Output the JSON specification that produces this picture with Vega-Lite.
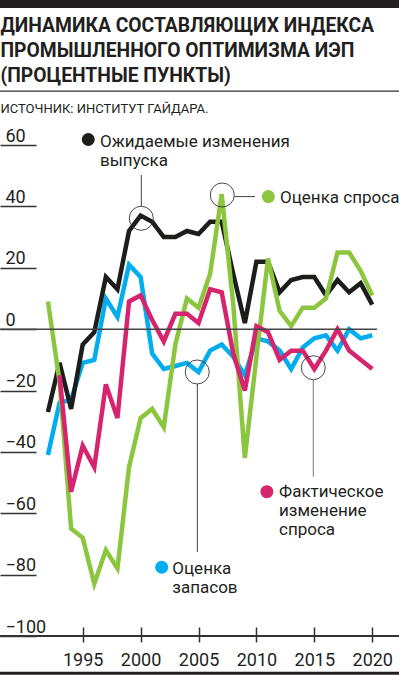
{
  "$schema": "https://vega.github.io/schema/vega-lite/v6.json",
  "width": 399,
  "height": 516,
  "autosize": {"type": "none"},
  "padding": {"left": 0, "right": 0, "top": 120, "bottom": 40},
  "background": "white",
  "config": {"view": {"stroke": null}},
  "data": {
    "values": [
      {"year": 1992, "series": "Ожидаемые изменения выпуска", "value": -27},
      {"year": 1993, "series": "Ожидаемые изменения выпуска", "value": -11},
      {"year": 1994, "series": "Ожидаемые изменения выпуска", "value": -26},
      {"year": 1995, "series": "Ожидаемые изменения выпуска", "value": -5},
      {"year": 1996, "series": "Ожидаемые изменения выпуска", "value": -1},
      {"year": 1997, "series": "Ожидаемые изменения выпуска", "value": 17},
      {"year": 1998, "series": "Ожидаемые изменения выпуска", "value": 13},
      {"year": 1999, "series": "Ожидаемые изменения выпуска", "value": 32},
      {"year": 2000, "series": "Ожидаемые изменения выпуска", "value": 37},
      {"year": 2001, "series": "Ожидаемые изменения выпуска", "value": 35},
      {"year": 2002, "series": "Ожидаемые изменения выпуска", "value": 30},
      {"year": 2003, "series": "Ожидаемые изменения выпуска", "value": 30},
      {"year": 2004, "series": "Ожидаемые изменения выпуска", "value": 32},
      {"year": 2005, "series": "Ожидаемые изменения выпуска", "value": 31},
      {"year": 2006, "series": "Ожидаемые изменения выпуска", "value": 35},
      {"year": 2007, "series": "Ожидаемые изменения выпуска", "value": 35},
      {"year": 2008, "series": "Ожидаемые изменения выпуска", "value": 18},
      {"year": 2009, "series": "Ожидаемые изменения выпуска", "value": 2},
      {"year": 2010, "series": "Ожидаемые изменения выпуска", "value": 22},
      {"year": 2011, "series": "Ожидаемые изменения выпуска", "value": 22},
      {"year": 2012, "series": "Ожидаемые изменения выпуска", "value": 12},
      {"year": 2013, "series": "Ожидаемые изменения выпуска", "value": 16},
      {"year": 2014, "series": "Ожидаемые изменения выпуска", "value": 17},
      {"year": 2015, "series": "Ожидаемые изменения выпуска", "value": 17},
      {"year": 2016, "series": "Ожидаемые изменения выпуска", "value": 11},
      {"year": 2017, "series": "Ожидаемые изменения выпуска", "value": 16},
      {"year": 2018, "series": "Ожидаемые изменения выпуска", "value": 12},
      {"year": 2019, "series": "Ожидаемые изменения выпуска", "value": 15},
      {"year": 2020, "series": "Ожидаемые изменения выпуска", "value": 8},
      {"year": 1992, "series": "Оценка спроса", "value": 9},
      {"year": 1993, "series": "Оценка спроса", "value": -17},
      {"year": 1994, "series": "Оценка спроса", "value": -65},
      {"year": 1995, "series": "Оценка спроса", "value": -68},
      {"year": 1996, "series": "Оценка спроса", "value": -83},
      {"year": 1997, "series": "Оценка спроса", "value": -72},
      {"year": 1998, "series": "Оценка спроса", "value": -78},
      {"year": 1999, "series": "Оценка спроса", "value": -45},
      {"year": 2000, "series": "Оценка спроса", "value": -29},
      {"year": 2001, "series": "Оценка спроса", "value": -26},
      {"year": 2002, "series": "Оценка спроса", "value": -32},
      {"year": 2003, "series": "Оценка спроса", "value": -5},
      {"year": 2004, "series": "Оценка спроса", "value": 10},
      {"year": 2005, "series": "Оценка спроса", "value": 7},
      {"year": 2006, "series": "Оценка спроса", "value": 18},
      {"year": 2007, "series": "Оценка спроса", "value": 44},
      {"year": 2008, "series": "Оценка спроса", "value": 8},
      {"year": 2009, "series": "Оценка спроса", "value": -42},
      {"year": 2010, "series": "Оценка спроса", "value": -9},
      {"year": 2011, "series": "Оценка спроса", "value": 23},
      {"year": 2012, "series": "Оценка спроса", "value": 6},
      {"year": 2013, "series": "Оценка спроса", "value": 1},
      {"year": 2014, "series": "Оценка спроса", "value": 7},
      {"year": 2015, "series": "Оценка спроса", "value": 7},
      {"year": 2016, "series": "Оценка спроса", "value": 10},
      {"year": 2017, "series": "Оценка спроса", "value": 25},
      {"year": 2018, "series": "Оценка спроса", "value": 25},
      {"year": 2019, "series": "Оценка спроса", "value": 19},
      {"year": 2020, "series": "Оценка спроса", "value": 11},
      {"year": 1992, "series": "Оценка запасов", "value": -41},
      {"year": 1993, "series": "Оценка запасов", "value": -24},
      {"year": 1994, "series": "Оценка запасов", "value": -23},
      {"year": 1995, "series": "Оценка запасов", "value": -11},
      {"year": 1996, "series": "Оценка запасов", "value": -10},
      {"year": 1997, "series": "Оценка запасов", "value": 10},
      {"year": 1998, "series": "Оценка запасов", "value": 4},
      {"year": 1999, "series": "Оценка запасов", "value": 21},
      {"year": 2000, "series": "Оценка запасов", "value": 17},
      {"year": 2001, "series": "Оценка запасов", "value": -8},
      {"year": 2002, "series": "Оценка запасов", "value": -13},
      {"year": 2003, "series": "Оценка запасов", "value": -12},
      {"year": 2004, "series": "Оценка запасов", "value": -11},
      {"year": 2005, "series": "Оценка запасов", "value": -14},
      {"year": 2006, "series": "Оценка запасов", "value": -7},
      {"year": 2007, "series": "Оценка запасов", "value": -5},
      {"year": 2008, "series": "Оценка запасов", "value": -9},
      {"year": 2009, "series": "Оценка запасов", "value": -15},
      {"year": 2010, "series": "Оценка запасов", "value": -3},
      {"year": 2011, "series": "Оценка запасов", "value": -4},
      {"year": 2012, "series": "Оценка запасов", "value": -7},
      {"year": 2013, "series": "Оценка запасов", "value": -13},
      {"year": 2014, "series": "Оценка запасов", "value": -6},
      {"year": 2015, "series": "Оценка запасов", "value": -3},
      {"year": 2016, "series": "Оценка запасов", "value": -2},
      {"year": 2017, "series": "Оценка запасов", "value": -7},
      {"year": 2018, "series": "Оценка запасов", "value": 0},
      {"year": 2019, "series": "Оценка запасов", "value": -3},
      {"year": 2020, "series": "Оценка запасов", "value": -2},
      {"year": 1993, "series": "Фактическое изменение спроса", "value": -15},
      {"year": 1994, "series": "Фактическое изменение спроса", "value": -53},
      {"year": 1995, "series": "Фактическое изменение спроса", "value": -38},
      {"year": 1996, "series": "Фактическое изменение спроса", "value": -45},
      {"year": 1997, "series": "Фактическое изменение спроса", "value": -18},
      {"year": 1998, "series": "Фактическое изменение спроса", "value": -29},
      {"year": 1999, "series": "Фактическое изменение спроса", "value": 9},
      {"year": 2000, "series": "Фактическое изменение спроса", "value": 11},
      {"year": 2001, "series": "Фактическое изменение спроса", "value": 3},
      {"year": 2002, "series": "Фактическое изменение спроса", "value": -4},
      {"year": 2003, "series": "Фактическое изменение спроса", "value": 5},
      {"year": 2004, "series": "Фактическое изменение спроса", "value": 5},
      {"year": 2005, "series": "Фактическое изменение спроса", "value": 2},
      {"year": 2006, "series": "Фактическое изменение спроса", "value": 13},
      {"year": 2007, "series": "Фактическое изменение спроса", "value": 12},
      {"year": 2008, "series": "Фактическое изменение спроса", "value": -8},
      {"year": 2009, "series": "Фактическое изменение спроса", "value": -20},
      {"year": 2010, "series": "Фактическое изменение спроса", "value": 1},
      {"year": 2011, "series": "Фактическое изменение спроса", "value": -1},
      {"year": 2012, "series": "Фактическое изменение спроса", "value": -10},
      {"year": 2013, "series": "Фактическое изменение спроса", "value": -7},
      {"year": 2014, "series": "Фактическое изменение спроса", "value": -7},
      {"year": 2015, "series": "Фактическое изменение спроса", "value": -13},
      {"year": 2016, "series": "Фактическое изменение спроса", "value": -7},
      {"year": 2017, "series": "Фактическое изменение спроса", "value": 0},
      {"year": 2018, "series": "Фактическое изменение спроса", "value": -7},
      {"year": 2019, "series": "Фактическое изменение спроса", "value": -10},
      {"year": 2020, "series": "Фактическое изменение спроса", "value": -13}
    ]
  },
  "layer": [
    {
      "transform": [{"filter": "datum.series === 'Оценка запасов'"}],
      "mark": {"type": "line", "color": "#00aeef", "strokeWidth": 4.5, "strokeJoin": "miter"},
      "encoding": {
        "x": {"field": "year", "type": "quantitative",
          "scale": {"domain": [1987.86, 2022.31], "nice": false, "zero": false},
          "axis": {"title": null, "values": [1995, 2000, 2005, 2010, 2015, 2020], "format": "d", "domain": false, "grid": false,
            "offset": -9, "tickSize": 15, "tickColor": "#333333", "tickWidth": 1.5, "labelPadding": 9,
            "labelFont": "Roboto", "labelFontSize": 18, "labelColor": "#231f20", "labelFlush": false, "labelOverlap": false}},
        "y": {"field": "value", "type": "quantitative",
          "scale": {"domain": [-100, 68.16], "nice": false, "zero": false},
          "axis": {"title": null, "values": [-100, -80, -60, -40, -20, 0, 20, 40, 60], "format": "d", "domain": false, "grid": false,
            "tickSize": -36, "tickColor": "#333333", "tickWidth": 1.5, "labelAlign": "left", "labelPadding": 31,
            "labelBaseline": "alphabetic", "labelOffset": -4,
            "labelFont": "Roboto", "labelFontSize": 18, "labelColor": "#231f20", "labelOverlap": false, "labelBound": false}}
      }
    },
    {
      "transform": [{"filter": "datum.series === 'Ожидаемые изменения выпуска'"}],
      "mark": {"type": "line", "color": "#1d1d1b", "strokeWidth": 4.5, "strokeJoin": "miter"},
      "encoding": {"x": {"field": "year", "type": "quantitative"}, "y": {"field": "value", "type": "quantitative"}}
    },
    {
      "transform": [{"filter": "datum.series === 'Оценка спроса'"}],
      "mark": {"type": "line", "color": "#8cc63f", "strokeWidth": 4.5, "strokeJoin": "miter"},
      "encoding": {"x": {"field": "year", "type": "quantitative"}, "y": {"field": "value", "type": "quantitative"}}
    },
    {
      "transform": [{"filter": "datum.series === 'Фактическое изменение спроса'"}],
      "mark": {"type": "line", "color": "#d6246e", "strokeWidth": 4.5, "strokeJoin": "miter"},
      "encoding": {"x": {"field": "year", "type": "quantitative"}, "y": {"field": "value", "type": "quantitative"}}
    },
    {
      "data": {"values": [{}]},
      "mark": {"type": "rule", "color": "#444444", "strokeWidth": 1.5},
      "encoding": {"x": {"datum": 1987.86}, "x2": {"datum": 2020.4}, "y": {"datum": 0}}
    },
    {
      "data": {"values": [{}]},
      "mark": {"type": "rule", "color": "#333333", "strokeWidth": 2},
      "encoding": {"x": {"datum": 1987.86}, "x2": {"datum": 2022.31}, "y": {"datum": -100}}
    },
    {
      "data": {"values": [{}]},
      "mark": {"type": "rule", "color": "#231f20", "strokeWidth": 8},
      "encoding": {"x": {"datum": 1987.86}, "x2": {"datum": 2022.31}, "y": {"datum": 106.0}}
    },
    {
      "data": {"values": [{}]},
      "mark": {"type": "rule", "color": "#333333", "strokeWidth": 1.3},
      "encoding": {"x": {"datum": 1987.86}, "x2": {"datum": 2022.31}, "y": {"datum": 77.6}}
    },
    {
      "data": {"values": [{}]},
      "mark": {"type": "rule", "color": "#231f20", "strokeWidth": 3},
      "encoding": {"x": {"datum": 1987.86}, "x2": {"datum": 2022.31}, "y": {"datum": -112.16}}
    },
    {
      "data": {"values": [{}]},
      "mark": {"type": "text", "text": ["ДИНАМИКА СОСТАВЛЯЮЩИХ ИНДЕКСА", "ПРОМЫШЛЕННОГО ОПТИМИЗМА ИЭП", "(ПРОЦЕНТНЫЕ ПУНКТЫ)"],
        "align": "left", "baseline": "alphabetic", "lineHeight": 25, "font": "Roboto", "fontWeight": "bold", "fontSize": 19.3, "color": "#231f20"},
      "encoding": {"x": {"datum": 1987.9}, "y": {"datum": 96.84}}
    },
    {
      "data": {"values": [{}]},
      "mark": {"type": "text", "text": "ИСТОЧНИК: ИНСТИТУТ ГАЙДАРА.",
        "align": "left", "baseline": "alphabetic", "font": "Roboto", "fontSize": 13, "color": "#231f20"},
      "encoding": {"x": {"datum": 1987.9}, "y": {"datum": 70.44}}
    },
    {
      "data": {"values": [{}]},
      "mark": {"type": "rule", "color": "#444444", "strokeWidth": 1},
      "encoding": {"x": {"datum": 2000.06}, "y": {"datum": 50.24}, "y2": {"datum": 40.13}}
    },
    {
      "data": {"values": [{}]},
      "mark": {"type": "rule", "color": "#444444", "strokeWidth": 1},
      "encoding": {"x": {"datum": 2008.11}, "x2": {"datum": 2009.88}, "y": {"datum": 43.2}}
    },
    {
      "data": {"values": [{}]},
      "mark": {"type": "rule", "color": "#444444", "strokeWidth": 1},
      "encoding": {"x": {"datum": 2004.9}, "y": {"datum": -17.9}, "y2": {"datum": -72.6}}
    },
    {
      "data": {"values": [{}]},
      "mark": {"type": "rule", "color": "#777777", "strokeWidth": 1},
      "encoding": {"x": {"datum": 2014.91}, "y": {"datum": -16.57}, "y2": {"datum": -48.1}}
    },
    {
      "data": {"values": [{}]},
      "mark": {"type": "point", "shape": "circle", "size": 576, "filled": false, "color": "#333333", "strokeWidth": 0.9, "opacity": 1},
      "encoding": {"x": {"datum": 2000.06}, "y": {"datum": 36.13}}
    },
    {
      "data": {"values": [{}]},
      "mark": {"type": "point", "shape": "circle", "size": 576, "filled": false, "color": "#333333", "strokeWidth": 0.9, "opacity": 1},
      "encoding": {"x": {"datum": 2007.05}, "y": {"datum": 43.72}}
    },
    {
      "data": {"values": [{}]},
      "mark": {"type": "point", "shape": "circle", "size": 576, "filled": false, "color": "#333333", "strokeWidth": 0.9, "opacity": 1},
      "encoding": {"x": {"datum": 2004.89}, "y": {"datum": -13.96}}
    },
    {
      "data": {"values": [{}]},
      "mark": {"type": "point", "shape": "circle", "size": 576, "filled": false, "color": "#333333", "strokeWidth": 0.9, "opacity": 1},
      "encoding": {"x": {"datum": 2014.91}, "y": {"datum": -12.56}}
    },
    {
      "data": {"values": [{}]},
      "mark": {"type": "point", "shape": "circle", "size": 169, "filled": true, "color": "#1d1d1b", "opacity": 1},
      "encoding": {"x": {"datum": 1995.48}, "y": {"datum": 61.8}}
    },
    {
      "data": {"values": [{}]},
      "mark": {"type": "point", "shape": "circle", "size": 169, "filled": true, "color": "#8cc63f", "opacity": 1},
      "encoding": {"x": {"datum": 2011.03}, "y": {"datum": 43.2}}
    },
    {
      "data": {"values": [{}]},
      "mark": {"type": "point", "shape": "circle", "size": 169, "filled": true, "color": "#d6246e", "opacity": 1},
      "encoding": {"x": {"datum": 2010.9}, "y": {"datum": -52.97}}
    },
    {
      "data": {"values": [{}]},
      "mark": {"type": "point", "shape": "circle", "size": 169, "filled": true, "color": "#00aeef", "opacity": 1},
      "encoding": {"x": {"datum": 2001.82}, "y": {"datum": -77.6}}
    },
    {
      "data": {"values": [{}]},
      "mark": {"type": "text", "text": ["Ожидаемые изменения", "выпуска"], "align": "left", "baseline": "alphabetic", "lineHeight": 19,
        "font": "Roboto", "fontSize": 17, "color": "#231f20"},
      "encoding": {"x": {"datum": 1996.49}, "y": {"datum": 59.46}}
    },
    {
      "data": {"values": [{}]},
      "mark": {"type": "text", "text": "Оценка спроса", "align": "left", "baseline": "alphabetic",
        "font": "Roboto", "fontSize": 17, "color": "#231f20"},
      "encoding": {"x": {"datum": 2012.04}, "y": {"datum": 41.0}}
    },
    {
      "data": {"values": [{}]},
      "mark": {"type": "text", "text": ["Фактическое", "изменение", "спроса"], "align": "left", "baseline": "alphabetic", "lineHeight": 19,
        "font": "Roboto", "fontSize": 17, "color": "#231f20"},
      "encoding": {"x": {"datum": 2011.95}, "y": {"datum": -54.8}}
    },
    {
      "data": {"values": [{}]},
      "mark": {"type": "text", "text": ["Оценка", "запасов"], "align": "left", "baseline": "alphabetic", "lineHeight": 19,
        "font": "Roboto", "fontSize": 17, "color": "#231f20"},
      "encoding": {"x": {"datum": 2002.74}, "y": {"datum": -79.8}}
    }
  ]
}
